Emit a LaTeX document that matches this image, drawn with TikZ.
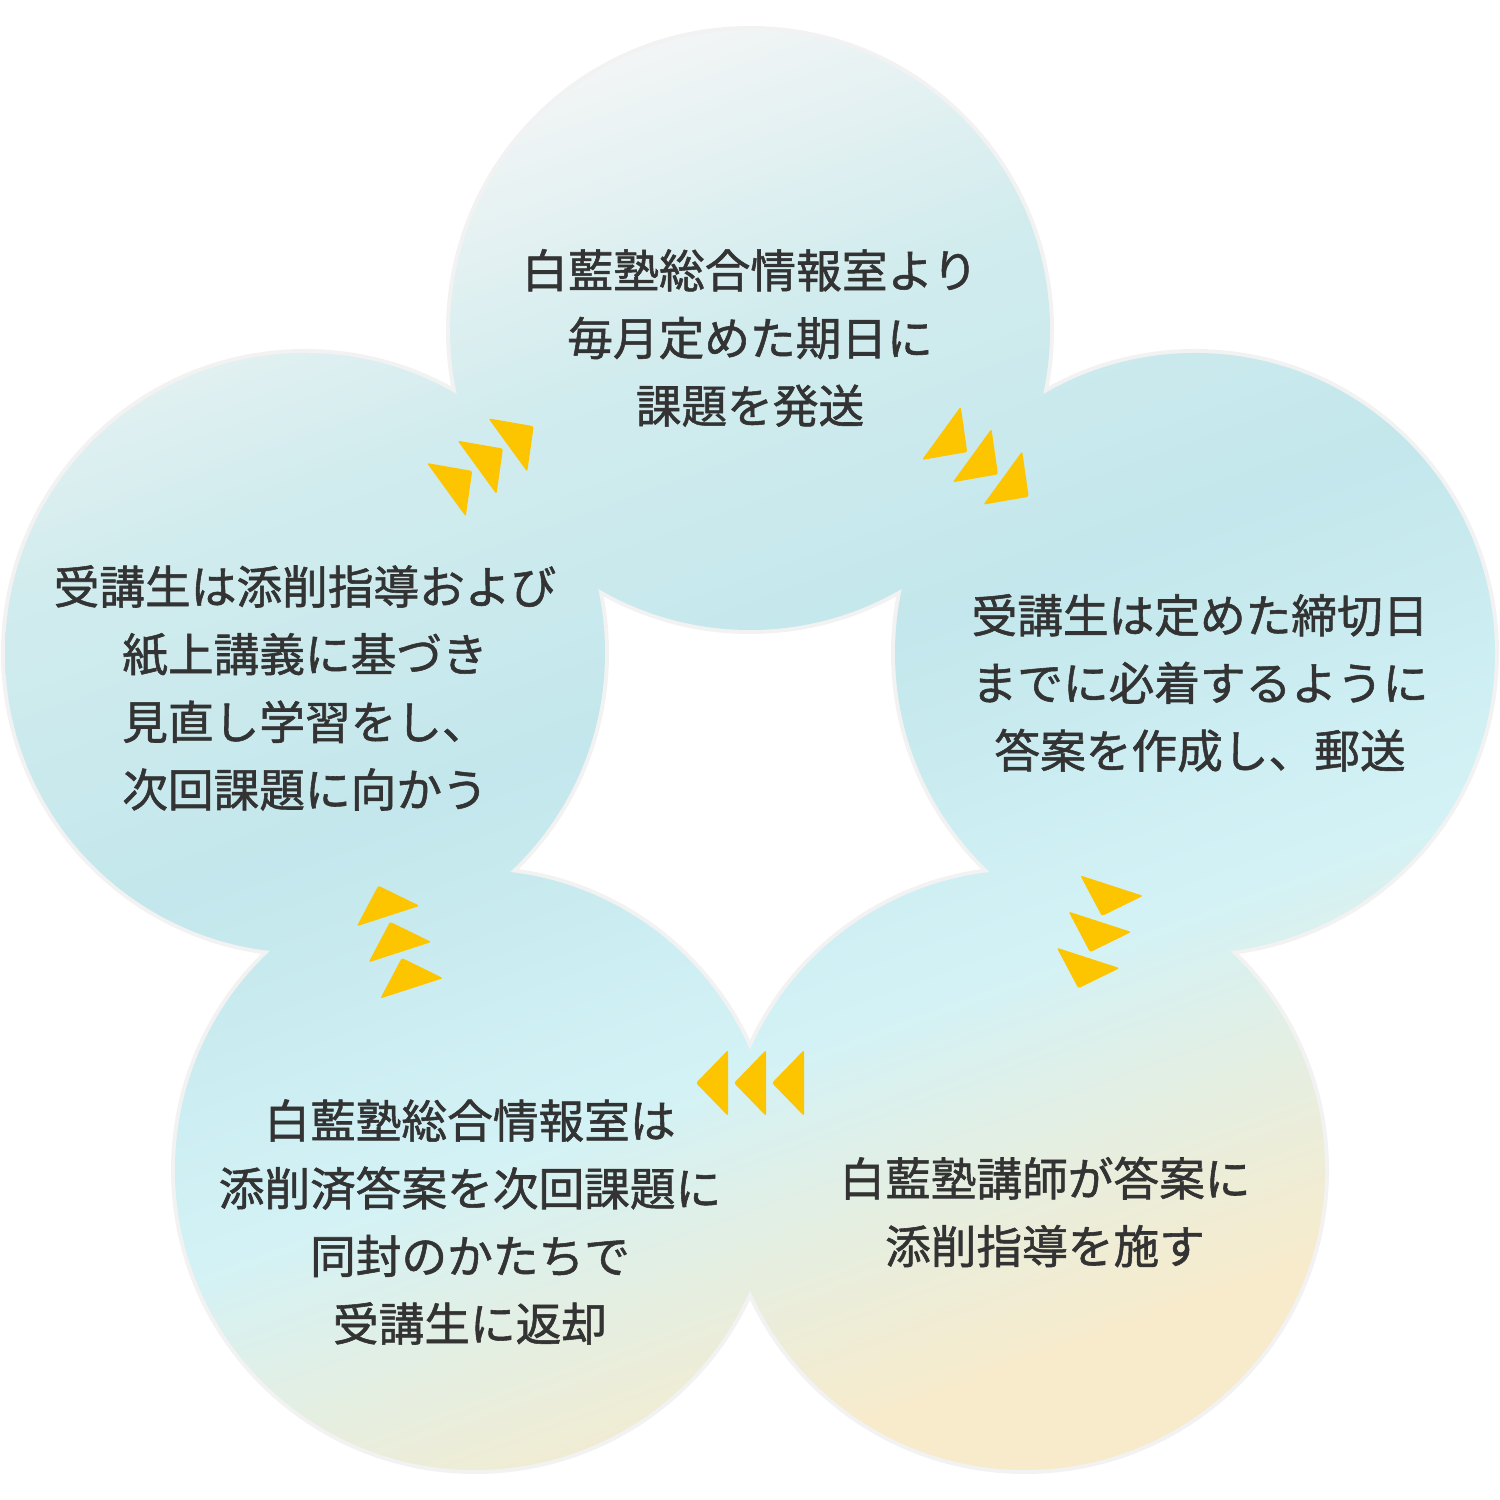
\documentclass[tikz,border=0pt]{standalone}
\usepackage{fontspec}
\setmainfont{Noto Sans CJK JP}[FakeBold=1.2]
\definecolor{cream}{HTML}{F7EBCC}
\definecolor{lcyan}{HTML}{D3F2F6}
\definecolor{pblue}{HTML}{C3E7EC}
\definecolor{pblue2}{HTML}{D2ECEE}
\definecolor{pgrey}{HTML}{F6F6F6}
\definecolor{ayel}{HTML}{FCC500}
\definecolor{txt}{HTML}{333333}
\pgfdeclareverticalshading{petal}{100bp}{color(0bp)=(cream); color(27bp)=(cream); color(40bp)=(lcyan); color(52bp)=(pblue); color(64bp)=(pblue2); color(75bp)=(pgrey); color(100bp)=(pgrey)}
\tikzset{
 lbl/.style={font=\fontsize{26pt}{38.5pt}\selectfont, text=txt, align=center},
 tri/.style={fill=ayel, rounded corners=1.2pt}
}
\newcommand{\trigroup}[2]{%
 \foreach \i in {-1,0,1}{%
  \fill[tri, shift={(#1)}, rotate=#2] ($(38*\i,0)+(16,0)$) -- ($(38*\i,0)+(-16,33)$) -- ($(38*\i,0)+(-16,-33)$) -- cycle;}}
\usetikzlibrary{calc}
\begin{document}
\begin{tikzpicture}[x=0.02cm,y=0.02cm]
\useasboundingbox (0,0) rectangle (1500,1500);
\fill[black!5] (750,1170) circle (304) (305,847) circle (304) (1195,847) circle (304) (475,330) circle (304) (1025,330) circle (304);
\begin{scope}
\clip (750,1170) circle (300) (305,847) circle (300) (1195,847) circle (300) (475,330) circle (300) (1025,330) circle (300);
\shade[shading=petal, shading angle=20] (5,25) rectangle (1495,1475);
\end{scope}
\trigroup{985,1035}{-36}
\trigroup{1095,563}{-108}
\trigroup{750,417}{180}
\trigroup{395,563}{108}
\trigroup{490,1042}{36}
\node[lbl] (t1) at (750,1162) {白藍塾総合情報室より\\毎月定めた期日に\\課題を発送};
\node[lbl] (t2) at (1200,817) {受講生は定めた締切日\\までに必着するように\\答案を作成し、郵送};
\node[lbl] (t3) at (1045,288) {白藍塾講師が答案に\\添削指導を施す};
\node[lbl] (t4) at (470,278) {白藍塾総合情報室は\\添削済答案を次回課題に\\同封のかたちで\\受講生に返却};
\node[lbl] (t5) at (305,812) {受講生は添削指導および\\紙上講義に基づき\\見直し学習をし、\\次回課題に向かう};
\end{tikzpicture}
\end{document}
